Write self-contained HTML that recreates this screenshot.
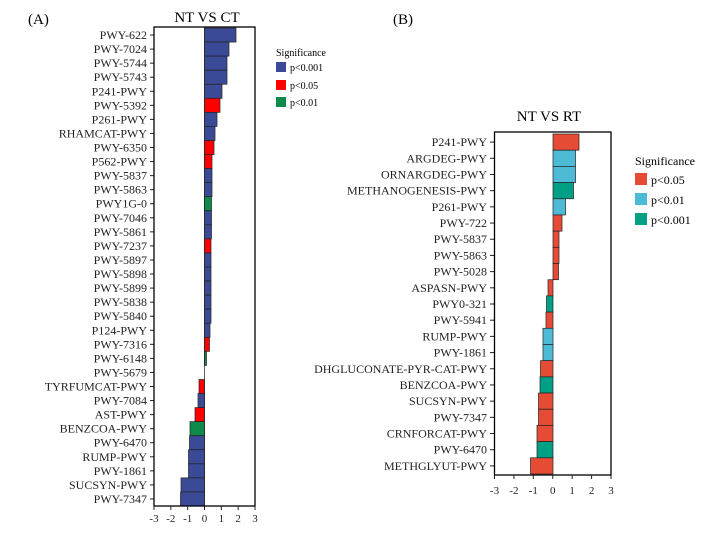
<!DOCTYPE html>
<html><head><style>html,body{margin:0;padding:0;background:#fff;}</style></head>
<body>
<svg width="708" height="533" xmlns="http://www.w3.org/2000/svg" font-family="Liberation Serif, serif">
<rect width="708" height="533" fill="#fff"/>
<text x="28" y="24" font-size="15">(A)</text>
<text x="207" y="22" font-size="15" text-anchor="middle">NT VS CT</text>
<text x="393" y="24" font-size="15">(B)</text>
<text x="549" y="121" font-size="15" text-anchor="middle">NT VS RT</text>
<g id="A" stroke="#222" stroke-width="0.7"></g>
<g id="B" stroke="#222" stroke-width="0.7"></g>
<g id="AL" font-size="12" text-anchor="end" fill="#222"></g>
<g id="BL" font-size="12" text-anchor="end" fill="#222"></g>
<rect x="154" y="27" width="101" height="479" fill="none" stroke="#000" stroke-width="1.3"/>
<rect x="494.5" y="132" width="116.5" height="343" fill="none" stroke="#000" stroke-width="1.3"/>
<g font-size="11" text-anchor="middle" fill="#222" id="ticks"></g>
<text x="276" y="56" font-size="10">Significance</text>
<rect x="276" y="62" width="10" height="10" fill="#3b4a96"/><text x="290" y="71" font-size="10">p&lt;0.001</text>
<rect x="276" y="80" width="10" height="10" fill="#f00"/><text x="290" y="89" font-size="10">p&lt;0.05</text>
<rect x="276" y="97" width="10" height="10" fill="#0e8a4a"/><text x="290" y="106" font-size="10">p&lt;0.01</text>
<text x="635" y="165" font-size="12">Significance</text>
<rect x="635" y="173" width="12" height="12" fill="#e64b35"/><text x="651" y="184" font-size="12">p&lt;0.05</text>
<rect x="635" y="193" width="12" height="12" fill="#4dbbd5"/><text x="651" y="204" font-size="12">p&lt;0.01</text>
<rect x="635" y="213" width="12" height="12" fill="#00a087"/><text x="651" y="224" font-size="12">p&lt;0.001</text>
<script>
(function(){
var NS="http://www.w3.org/2000/svg";
function el(p,t,a,txt){var e=document.createElementNS(NS,t);for(var k in a)e.setAttribute(k,a[k]);if(txt)e.textContent=txt;p.appendChild(e);}
var cB="#3b4a96",cR="#f00",cG="#0e8a4a";
var A=[["PWY-622",236,cB],["PWY-7024",229,cB],["PWY-5744",227,cB],["PWY-5743",227,cB],["P241-PWY",222,cB],["PWY-5392",220,cR],["P261-PWY",217,cB],["RHAMCAT-PWY",215,cB],["PWY-6350",214,cR],["P562-PWY",212,cR],["PWY-5837",212,cB],["PWY-5863",212,cB],["PWY1G-0",211.5,cG],["PWY-7046",211.5,cB],["PWY-5861",211.5,cB],["PWY-7237",211,cR],["PWY-5897",211,cB],["PWY-5898",211,cB],["PWY-5899",211,cB],["PWY-5838",211,cB],["PWY-5840",211,cB],["P124-PWY",210,cB],["PWY-7316",209.5,cR],["PWY-6148",206.5,cG],["PWY-5679",204.5,cB],["TYRFUMCAT-PWY",199,cR],["PWY-7084",198,cB],["AST-PWY",195,cR],["BENZCOA-PWY",190,cG],["PWY-6470",189.5,cB],["RUMP-PWY",188.5,cB],["PWY-1861",188.5,cB],["SUCSYN-PWY",181,cB],["PWY-7347",180.5,cB]];
var gA=document.getElementById("A"),lA=document.getElementById("AL");
var z=204.5,tA=28,h=(506-28)/A.length;
A.forEach(function(r,i){var y=tA+i*h;var x0=Math.min(z,r[1]),w=Math.abs(r[1]-z);
if(w>0.2)el(gA,"rect",{x:x0,y:y,width:w,height:h,fill:r[2]});
el(lA,"text",{x:147,y:y+h/2+4},r[0]);el(lA,"line",{x1:150,x2:154,y1:y+h/2,y2:y+h/2,stroke:"#222"});});
el(gA,"line",{x1:z,x2:z,y1:27,y2:506,stroke:"#222"});
var r1="#e64b35",c1="#4dbbd5",t1="#00a087";
var B=[["P241-PWY",579,r1],["ARGDEG-PWY",575.5,c1],["ORNARGDEG-PWY",575.5,c1],["METHANOGENESIS-PWY",573.5,t1],["P261-PWY",565.5,c1],["PWY-722",562,r1],["PWY-5837",559,r1],["PWY-5863",559,r1],["PWY-5028",558.5,r1],["ASPASN-PWY",548,r1],["PWY0-321",546.5,t1],["PWY-5941",546,r1],["RUMP-PWY",543,c1],["PWY-1861",543,c1],["DHGLUCONATE-PYR-CAT-PWY",540.5,r1],["BENZCOA-PWY",540,t1],["SUCSYN-PWY",538.5,r1],["PWY-7347",538.5,r1],["CRNFORCAT-PWY",537,r1],["PWY-6470",537,t1],["METHGLYUT-PWY",530.5,r1]];
var gB=document.getElementById("B"),lB=document.getElementById("BL");
var zb=553,tb=134,hb=(474-134)/B.length;
B.forEach(function(r,i){var y=tb+i*hb;var x0=Math.min(zb,r[1]),w=Math.abs(r[1]-zb);
el(gB,"rect",{x:x0,y:y,width:w,height:hb,fill:r[2]});
el(lB,"text",{x:487,y:y+hb/2+4},r[0]);el(lB,"line",{x1:490,x2:494,y1:y+hb/2,y2:y+hb/2,stroke:"#222"});});
var tk=document.getElementById("ticks");
for(var v=-3;v<=3;v++){var xa=154+(v+3)*101/6;el(tk,"line",{x1:xa,x2:xa,y1:506,y2:510,stroke:"#222"});el(tk,"text",{x:xa,y:522},String(v));
var xb=494.5+(v+3)*116.5/6;el(tk,"line",{x1:xb,x2:xb,y1:475,y2:479,stroke:"#222"});el(tk,"text",{x:xb,y:494},String(v));}
})();
</script>
</svg>
</body></html>
